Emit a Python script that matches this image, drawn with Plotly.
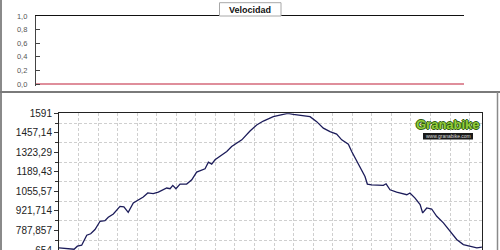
import plotly.graph_objects as go

# ---- data ----
dist_km = [0.00, 0.65, 0.77, 0.94, 1.16, 1.42, 1.62, 1.84, 2.10, 2.35, 2.52, 2.78,
           3.12, 3.32, 3.54, 3.80, 4.01, 4.31, 4.54, 4.82, 5.08, 5.25, 5.51, 5.68,
           5.82, 5.98, 6.19, 6.53, 6.79, 7.04, 7.30, 7.47, 7.64, 7.81, 7.98, 8.32,
           8.58, 8.83, 9.09, 9.35, 9.77, 10.11, 10.45, 10.96, 11.47, 11.71, 11.98,
           12.41, 12.84, 13.18, 13.52, 13.86, 14.20, 14.46, 14.80, 14.97, 15.23,
           15.40, 15.65, 15.77, 15.99, 16.59, 16.73, 16.93, 17.27, 17.79, 17.95,
           18.21, 18.47, 18.60, 18.81, 19.06, 19.32, 19.66, 20.00, 20.34, 20.68,
           21.02, 21.37, 21.63]
elevation = [669, 664, 659, 680, 687, 755, 765, 794, 851, 855, 878, 901,
             953, 949, 912, 976, 994, 1017, 1045, 1040, 1051, 1060, 1079, 1074,
             1097, 1074, 1106, 1106, 1135, 1188, 1204, 1211, 1256, 1243, 1272, 1306,
             1329, 1363, 1386, 1409, 1470, 1511, 1538, 1568, 1584, 1591, 1584,
             1575, 1568, 1534, 1489, 1465, 1448, 1409, 1379, 1329, 1260,
             1215, 1158, 1106, 1101, 1097, 1108, 1067, 1051, 1033, 1045,
             1010, 965, 908, 942, 935, 885, 840, 782, 726, 691,
             680, 669, 674]
speed_km = [0.0, 21.65]
speed = [0.0, 0.0]

elev_ticks = [654, 787.857, 921.714, 1055.57, 1189.43, 1323.29, 1457.14, 1591]
elev_labels = ["654", "787,857", "921,714", "1055,57", "1189,43", "1323,29", "1457,14", "1591"]
speed_ticks = [0, 0.2, 0.4, 0.6, 0.8, 1.0]
speed_labels = ["0,0", "0,2", "0,4", "0,6", "0,8", "1,0"]
x_max = 21.65

W, H = 500, 250
def px(x): return x / W
def py(y): return 1 - y / H

FONT = "Liberation Sans, Arial, sans-serif"

top_pad = 0.03
top_px_per_unit = 68.0

fig = go.Figure()
fig.add_trace(go.Scatter(x=speed_km, y=speed, mode="lines",
                         line=dict(color="#d4687a", width=1.6),
                         xaxis="x", yaxis="y", showlegend=False, hoverinfo="skip"))
fig.add_trace(go.Scatter(x=dist_km, y=elevation, mode="lines",
                         line=dict(color="#1c1c5a", width=1.3),
                         xaxis="x2", yaxis="y2", showlegend=False, hoverinfo="skip"))

mids = [(elev_ticks[i] + elev_ticks[i + 1]) / 2 for i in range(len(elev_ticks) - 1)]

fig.update_layout(
    width=W, height=H,
    margin=dict(l=0, r=0, t=0, b=0, pad=0, autoexpand=False),
    showlegend=False,
    paper_bgcolor="white", plot_bgcolor="rgba(0,0,0,0)",
    font=dict(family=FONT),
    xaxis=dict(domain=[px(36), px(464)], range=[0, x_max], side="top", anchor="y",
               automargin=False,
               showline=True, linecolor="#111", linewidth=1,
               showgrid=False, zeroline=False, showticklabels=False, ticks=""),
    yaxis=dict(domain=[py(84 + top_pad * top_px_per_unit), py(16)], range=[-top_pad, 1], anchor="x",
               automargin=False,
               tickvals=speed_ticks, ticktext=speed_labels,
               ticks="inside", ticklen=4, tickcolor="#444",
               showline=True, linecolor="#444", linewidth=1.2,
               showgrid=False, zeroline=False, ticklabelstandoff=6,
               tickfont=dict(size=7.5, color="#555", family=FONT)),
    yaxis3=dict(overlaying="y", side="right", anchor="x", range=[-top_pad, 1],
                automargin=False,
                tickvals=speed_ticks, ticktext=speed_labels,
                ticks="outside", ticklen=4, tickcolor="#444",
                showline=True, linecolor="#444", linewidth=1.2,
                showgrid=False, zeroline=False, ticklabelstandoff=3,
                tickfont=dict(size=7.5, color="#555", family=FONT)),
    xaxis2=dict(domain=[px(59), px(482.3)], range=[0, x_max], anchor="y2",
                automargin=False,
                dtick=1, tick0=0, showticklabels=False, ticks="",
                showgrid=True, gridcolor="#cfcfcf", gridwidth=1, griddash="3px,2px",
                showline=True, mirror=True, linecolor="#222", linewidth=1,
                zeroline=False),
    yaxis2=dict(domain=[0, py(113.3)], range=[654, 1591], anchor="x2",
                automargin=False,
                tickvals=elev_ticks, ticktext=elev_labels,
                ticks="outside", ticklen=4, tickcolor="#333",
                ticklabeloverflow="allow",
                showgrid=False, zeroline=False,
                showline=True, mirror=True, linecolor="#222", linewidth=1,
                tickfont=dict(size=10, color="#222", family=FONT),
                minor=dict(tickvals=mids, ticks="outside", ticklen=3, tickcolor="#333",
                           showgrid=True, gridcolor="#cfcfcf", gridwidth=1,
                           griddash="3px,2px")),
)

shapes = [
    dict(type="line", xref="paper", yref="paper", x0=px(1), x1=px(1), y0=0, y1=1,
         line=dict(color="#8a8a8a", width=2)),
    dict(type="line", xref="paper", yref="paper", x0=0, x1=1, y0=py(92), y1=py(92),
         line=dict(color="#7a7a7a", width=2)),
    dict(type="line", xref="paper", yref="paper", x0=px(497.5), x1=px(497.5), y0=0, y1=py(92),
         line=dict(color="#8a8a8a", width=1.5)),
    dict(type="rect", xref="paper", yref="paper", x0=px(219.5), x1=px(281), y0=py(16), y1=py(2.7),
         fillcolor="white", line=dict(color="#a8a8a8", width=1)),
    dict(type="rect", xref="paper", yref="paper", x0=px(423), x1=px(473), y0=py(139.5), y1=py(133),
         fillcolor="#1a1a1a", line=dict(width=0)),
]
fig.update_layout(shapes=shapes)

outline = "-1px 0 #2f5d10, 1px 0 #2f5d10, 0 -1px #2f5d10, 0 1px #2f5d10"
annotations = [
    dict(text="<b>Velocidad</b>", xref="paper", yref="paper", x=px(250.2), y=py(9.6),
         showarrow=False, xanchor="center", yanchor="middle",
         font=dict(size=9, color="#111", family=FONT)),
    dict(text="<b>Granabike</b>", xref="paper", yref="paper", x=px(448), y=py(124),
         showarrow=False, xanchor="center", yanchor="middle",
         font=dict(size=13, color="#92cc3a", family=FONT, shadow=outline)),
    dict(text="www.granabike.com", xref="paper", yref="paper", x=px(448), y=py(136.3),
         showarrow=False, xanchor="center", yanchor="middle",
         font=dict(size=5, color="#dddddd", family=FONT)),
]
fig.update_layout(annotations=annotations)

fig.write_html("out.html")
